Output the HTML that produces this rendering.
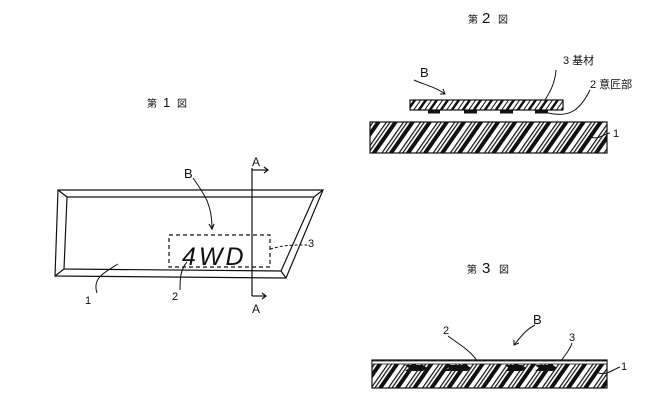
<!DOCTYPE html>
<html><head><meta charset="utf-8"><style>
html,body{margin:0;padding:0;background:#fff;}
svg{display:block;}
text{font-family:"Liberation Sans","Noto Sans CJK JP",sans-serif;fill:#111;}
</style></head><body>
<svg width="647" height="405" viewBox="0 0 647 405" xmlns="http://www.w3.org/2000/svg">
<defs>
<pattern id="h" width="14" height="14" patternUnits="userSpaceOnUse" patternTransform="rotate(35)">
<rect width="14" height="14" fill="#fff"/>
<rect x="0" y="0" width="4" height="14" fill="#111"/>
<rect x="8" y="0" width="1.2" height="14" fill="#111"/>
<rect x="11" y="0" width="1.2" height="14" fill="#111"/>
</pattern>
<pattern id="h2" width="9" height="9" patternUnits="userSpaceOnUse" patternTransform="rotate(35)">
<rect width="9" height="9" fill="#fff"/>
<rect x="0" y="0" width="2.5" height="9" fill="#111"/>
<rect x="5.5" y="0" width="1" height="9" fill="#111"/>
</pattern>
</defs>
<g stroke="#111" fill="none" stroke-width="1.2">
<polygon points="58,190 323,190 286,278 55,276"/>
<polygon points="67,197 314,197 281,271 64,269"/>
<line x1="58" y1="190" x2="67" y2="197"/><line x1="323" y1="190" x2="314" y2="197"/>
<line x1="286" y1="278" x2="281" y2="271"/><line x1="55" y1="276" x2="64" y2="269"/>
<rect x="169" y="235" width="101" height="32" stroke-dasharray="4,3"/>
<line x1="252" y1="168" x2="252" y2="296"/>
<polyline points="252,170 268,170"/><polyline points="264,167 268,170 264,173"/>
<polyline points="252,296 266,296"/><polyline points="262,293 266,296 262,299"/>
<path d="M193,178 C205,195 212,205 212,228" stroke-width="1"/>
<polyline points="209,224 212,229 214,224"/>
<path d="M270,249 C285,245 290,245 307,245" stroke-dasharray="3,2" stroke-width="1"/>
<path d="M118,264 C105,272 92,278 97,293" stroke-width="1"/>
<path d="M187,262 C180,270 180,280 180,290" stroke-width="1"/>
<rect x="410" y="100" width="153" height="10" fill="url(#h2)"/>
<rect x="370" y="122" width="237" height="31" fill="url(#h)"/>
<path d="M414,80 C422,84 436,87 445,94" stroke-width="1"/>
<polyline points="440,94 445,94 443,89" stroke-width="1"/>
<path d="M556,70 C555,85 548,95 545,100" stroke-width="1"/>
<path d="M590,90 C580,110 570,118 548,113" stroke-width="1"/>
<path d="M610,133 C603,134 600,140 590,137" stroke-width="1"/>
<rect x="372" y="360" width="235" height="28" fill="url(#h)"/>
<path d="M448,336 C460,345 470,350 478,362" stroke-width="1"/>
<path d="M535,325 C525,330 520,338 514,345" stroke-width="1"/>
<polyline points="514,340 514,345 519,343" stroke-width="1"/>
<path d="M572,343 C570,350 565,355 561,361" stroke-width="1"/>
<path d="M620,367 C612,370 608,375 598,373" stroke-width="1"/>
</g>
<g fill="#111">
<rect x="428" y="110" width="12" height="3.5"/><rect x="464" y="110" width="13" height="3.5"/>
<rect x="500" y="110" width="13" height="3.5"/><rect x="535" y="110" width="13" height="3.5"/>
<rect x="372" y="361" width="235" height="3" fill="#fff" stroke="#111" stroke-width="0.8"/>
<path d="M405,365 l18,0 4,3 -4,3 -18,0 4,-3z"/><path d="M445,365 l22,0 4,3 -4,3 -22,0 4,-3z"/>
<path d="M505,365 l17,0 4,3 -4,3 -17,0 4,-3z"/><path d="M535,365 l18,0 4,3 -4,3 -18,0 4,-3z"/>
</g>
<text x="147" y="107" font-size="10">第</text><text x="163" y="107" font-size="13">1</text><text x="177" y="107" font-size="10">図</text>
<text x="468" y="23" font-size="10">第</text><text x="482" y="23" font-size="15">2</text><text x="498" y="23" font-size="10">図</text>
<text x="467" y="273" font-size="10">第</text><text x="482" y="273" font-size="15">3</text><text x="499" y="273" font-size="10">図</text>
<text x="184" y="178" font-size="13">B</text>
<text x="252" y="166" font-size="12">A</text><text x="252" y="313" font-size="12">A</text>
<text x="182" y="265" font-size="25" font-style="italic" letter-spacing="3">4WD</text>
<text x="308" y="247" font-size="11">3</text>
<text x="85" y="304" font-size="11">1</text><text x="172" y="300" font-size="11">2</text>
<text x="420" y="77" font-size="13">B</text>
<text x="563" y="64" font-size="11">3 基材</text>
<text x="590" y="88" font-size="11">2 意匠部</text>
<text x="613" y="137" font-size="11">1</text>
<text x="533" y="324" font-size="13">B</text>
<text x="443" y="334" font-size="11">2</text>
<text x="569" y="341" font-size="11">3</text>
<text x="621" y="370" font-size="11">1</text>
</svg>
</body></html>
